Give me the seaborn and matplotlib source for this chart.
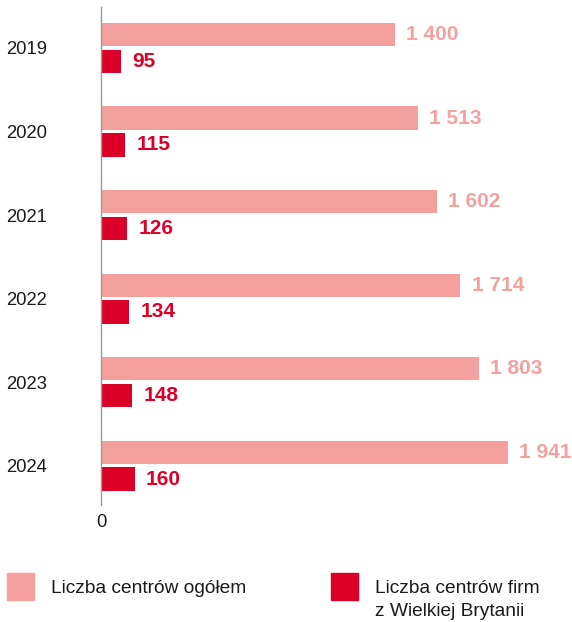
import matplotlib
matplotlib.use("Agg")
import matplotlib.pyplot as plt
from matplotlib.patches import Patch
import pandas as pd
import seaborn as sns

years = ["2019", "2020", "2021", "2022", "2023", "2024"]
total_centres = [1400, 1513, 1602, 1714, 1803, 1941]
uk_centres = [95, 115, 126, 134, 148, 160]

label_total = "Liczba centrów ogółem"
label_uk = "Liczba centrów firm"
label_uk_2 = "z Wielkiej Brytanii"

PINK = "#F4A09F"
RED = "#DC0028"
TEXT = "#1a1a1a"

sns.set_theme(style="white")
plt.rcParams["font.family"] = ["Liberation Sans", "DejaVu Sans"]

df = pd.DataFrame({
    "rok": years * 2,
    "liczba": total_centres + uk_centres,
    "seria": [label_total] * len(years) + [label_uk] * len(years),
})

fig = plt.figure(figsize=(5.72, 6.22), dpi=100)
ax = fig.add_axes([101 / 572, 117 / 622, 471 / 572, 498 / 622])

sns.barplot(data=df, x="liczba", y="rok", hue="seria", orient="h",
            palette=[PINK, RED], width=0.64, gap=0.13, saturation=1,
            linewidth=0, ax=ax, legend=False)

# etykiety wartości
for cont, col in zip(ax.containers, [PINK, RED]):
    labels = [f"{int(v):,}".replace(",", " ") for v in cont.datavalues]
    ax.bar_label(cont, labels=labels, padding=8, color=col,
                 fontsize=15, fontweight="bold")

ax.set_xlim(0, 471 / (407 / 1941))
ax.set_ylim(5.47, -0.49)
ax.set_xticks([0])
ax.set_xticklabels(["0"])
ax.set_xlabel("")
ax.set_ylabel("")
ax.tick_params(axis="x", length=0, pad=6.5, labelsize=13.3, labelcolor=TEXT)
ax.tick_params(axis="y", length=0, pad=39, labelsize=13.3, labelcolor=TEXT)
for s in ["top", "right", "bottom"]:
    ax.spines[s].set_visible(False)
ax.spines["left"].set_color("#9a9a9a")
ax.spines["left"].set_linewidth(1)

# legenda
leg_kw = dict(loc="upper left", frameon=False, fontsize=13.8, handlelength=1.4,
              handleheight=1.76, handletextpad=0.92, borderpad=0, borderaxespad=0,
              labelcolor=TEXT)
fig.legend([Patch(color=PINK)], [label_total],
           bbox_to_anchor=(7 / 572, 1 - 573 / 622), **leg_kw)
fig.legend([Patch(color=RED)], [label_uk],
           bbox_to_anchor=(331 / 572, 1 - 573 / 622), **leg_kw)
fig.text(375 / 572, 1 - 612 / 622, label_uk_2, fontsize=13.8, color=TEXT,
         ha="left", va="center")

fig.savefig("out.png", dpi=100)
